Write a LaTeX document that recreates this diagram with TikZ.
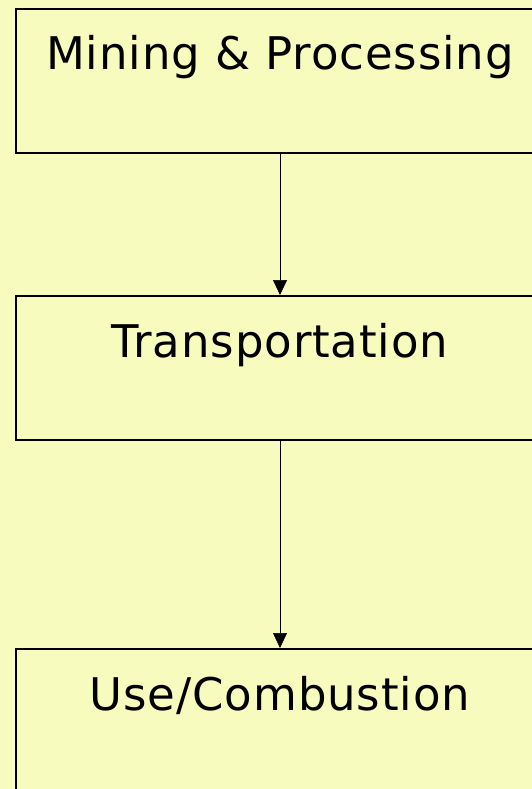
\documentclass[tikz,border=0pt]{standalone}
\usepackage{fontspec}
\setmainfont[LetterSpace=2]{DejaVu Sans}
\usetikzlibrary{arrows.meta}
\definecolor{paleyellow}{RGB}{247,252,190}

\begin{document}
\begin{tikzpicture}
            [x=1pt, y=-1pt, ->, >={Triangle[length=15pt,width=14pt]}, semithick,
             stage/.style={shape=rectangle, draw=black, line width=2pt, anchor=north,
                           minimum width=528pt, inner xsep=0pt, inner ysep=28pt,
                           text height=33pt, text depth=55pt, font=\fontsize{45}{48}\selectfont}]
            \fill[paleyellow] (0, 0) rectangle (532, 789);
            \useasboundingbox (0, 0) rectangle (532, 789);
            \node[stage] (mining) at (280, 8) {Mining \& Processing};
            \node[stage] (transport) at (280, 295) {Transportation};
            \node[stage] (use) at (280, 648) {Use/Combustion};

            \path [->] (mining) edge (transport);
            \path [->] (transport) edge (use);
        \end{tikzpicture}
\end{document}
